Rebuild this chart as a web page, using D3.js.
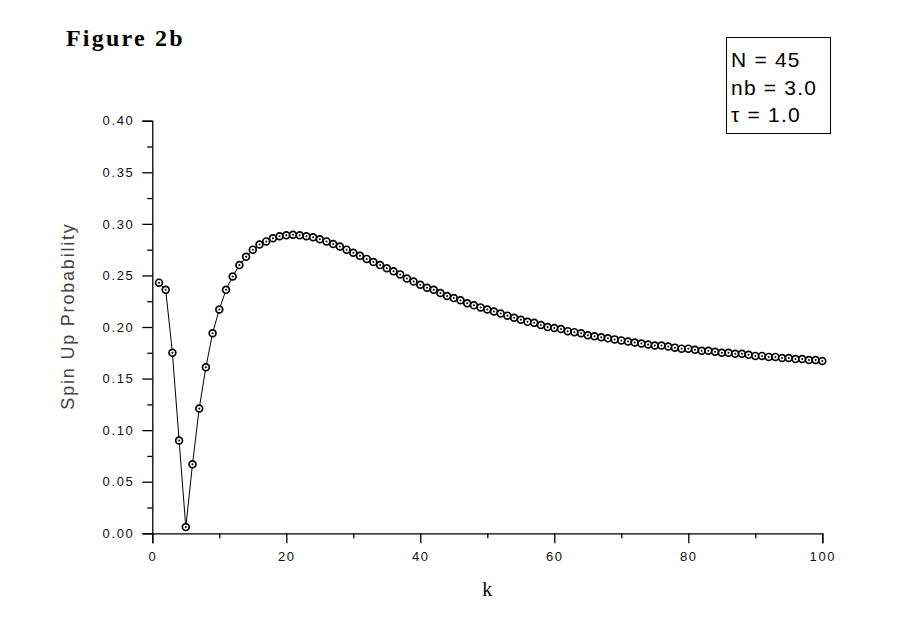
<!DOCTYPE html>
<html><head><meta charset="utf-8">
<script src="https://cdn.jsdelivr.net/npm/d3@7"></script>
<style>body{margin:0;background:#fff}svg{display:block}</style>
</head><body>
<script>
// ---- data ----
const kValues = d3.range(1, 101);
const spinUp = [
 0.243,0.236,0.175,0.090,0.006,0.067,0.121,0.161,0.194,0.217,
 0.236,0.249,0.260,0.268,0.275,0.280,0.283,0.286,0.288,0.289,
 0.2895,0.289,0.288,0.287,0.285,0.283,0.2805,0.278,0.275,0.272,
 0.269,0.266,0.263,0.260,0.257,0.254,0.251,0.247,0.244,0.241,
 0.238,0.236,0.233,0.230,0.228,0.226,0.223,0.221,0.219,0.217,
 0.215,0.213,0.211,0.209,0.207,0.205,0.204,0.202,0.200,0.199,
 0.198,0.196,0.195,0.194,0.192,0.191,0.190,0.189,0.188,0.187,
 0.186,0.185,0.184,0.183,0.182,0.182,0.181,0.180,0.179,0.179,
 0.178,0.177,0.177,0.176,0.175,0.175,0.174,0.174,0.173,0.172,
 0.172,0.171,0.171,0.170,0.170,0.169,0.169,0.168,0.168,0.167
];
const xTicks = [0,20,40,60,80,100];
const xMinorTicks = [10,30,50,70,90];
const yTicks = [0,0.05,0.10,0.15,0.20,0.25,0.30,0.35,0.40];
const yMinorTicks = [0.025,0.075,0.125,0.175,0.225,0.275,0.325,0.375];
const legendLines = ["N = 45", "nb = 3.0", "\u03C4 = 1.0"];
const titleText = "Figure 2b";
const xLabel = "k";
const yLabel = "Spin Up Probability";

const W = 900, H = 637;
const svg = d3.select("body").append("svg").attr("width", W).attr("height", H);
const x = d3.scaleLinear().domain([0,100]).range([152.3, 822.3]);
const y = d3.scaleLinear().domain([0,0.4]).range([533.3, 120.7]);

const sans = "'Liberation Sans', Arial, sans-serif";
const serif = "'Liberation Serif', 'Times New Roman', serif";

// axes
const xAxis = svg.append("g").attr("transform", `translate(0,${y(0)})`)
  .call(d3.axisBottom(x).tickValues(xTicks).tickFormat(d3.format("d")).tickSize(10).tickPadding(8));
const xAxisMinor = svg.append("g").attr("transform", `translate(0,${y(0)})`)
  .call(d3.axisBottom(x).tickValues(xMinorTicks).tickFormat("").tickSize(5));
const yAxis = svg.append("g").attr("transform", `translate(${x(0)},0)`)
  .call(d3.axisLeft(y).tickValues(yTicks).tickFormat(d3.format(".2f")).tickSize(10).tickPadding(8));
const yAxisMinor = svg.append("g").attr("transform", `translate(${x(0)},0)`)
  .call(d3.axisLeft(y).tickValues(yMinorTicks).tickFormat("").tickSize(5));
[xAxis, xAxisMinor, yAxis, yAxisMinor].forEach(g => {
  g.select(".domain").attr("stroke", "#000").attr("stroke-width", 1.3);
  g.selectAll(".tick line").attr("stroke", "#000").attr("stroke-width", 1.3);
  g.selectAll("text").attr("fill", "#111").style("font-family", sans)
    .style("font-size", "13px").style("letter-spacing", "1.6px");
});
[xAxisMinor, yAxisMinor].forEach(g => g.select(".domain").remove());

// line + markers
const data = kValues.map((k, i) => ({k, v: spinUp[i]}));
svg.append("path").datum(data)
  .attr("fill", "none").attr("stroke", "#000").attr("stroke-width", 1)
  .attr("d", d3.line().x(d => x(d.k)).y(d => y(d.v)));
const m = svg.append("g").selectAll("g").data(data).join("g")
  .attr("transform", d => `translate(${x(d.k)},${y(d.v)})`);
m.append("circle").attr("r", 3.4).attr("fill", "#fff").attr("stroke", "#000").attr("stroke-width", 1.7);
m.append("circle").attr("r", 1).attr("fill", "#000");

// title
svg.append("text").attr("x", 66).attr("y", 46).text(titleText)
  .style("font-family", serif).style("font-weight", "bold").style("font-size", "24px")
  .style("letter-spacing", "2.2px").attr("fill", "#000");

// axis labels
svg.append("text").attr("x", x(50)).attr("y", 596).attr("text-anchor", "middle").text(xLabel)
  .style("font-family", serif).style("font-size", "20px").attr("fill", "#000");
svg.append("text").attr("transform", "translate(68,316) rotate(-90)").attr("text-anchor", "middle")
  .attr("dy", "0.35em").text(yLabel)
  .style("font-family", sans).style("font-size", "18px").style("letter-spacing", "1.8px").attr("fill", "#444");

// legend box
svg.append("rect").attr("x", 726.5).attr("y", 37.5).attr("width", 104).attr("height", 96)
  .attr("fill", "#fff").attr("stroke", "#000").attr("stroke-width", 1);
svg.append("g").selectAll("text").data(legendLines).join("text")
  .attr("x", 731).attr("y", (d, i) => 67 + i * 27.5).text(d => d)
  .style("font-family", sans).style("font-size", "21px").style("letter-spacing", "1.2px").attr("fill", "#000");
</script>
</body></html>
